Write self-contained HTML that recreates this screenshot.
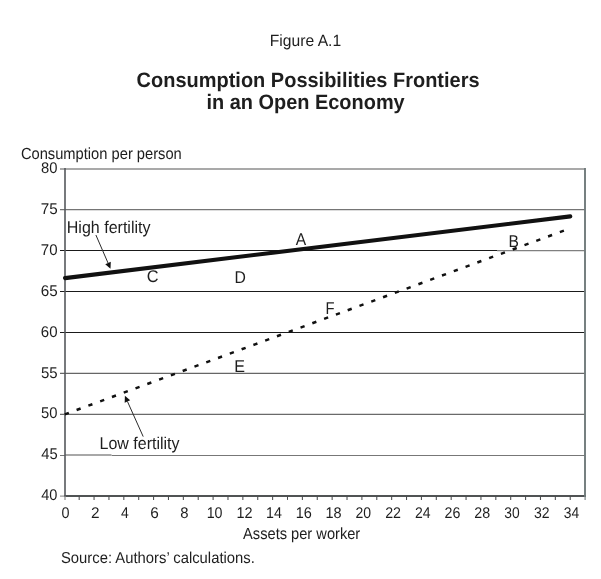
<!DOCTYPE html>
<html><head><meta charset="utf-8"><title>Figure A.1</title>
<style>
html,body{margin:0;padding:0;background:#fff;}
body{width:601px;height:579px;overflow:hidden;}
svg{display:block;font-family:"Liberation Sans",Arial,sans-serif;fill:#1e1e1e;will-change:transform;}
text{text-rendering:geometricPrecision;}
</style></head><body>
<svg width="601" height="579" viewBox="0 0 601 579">

<line x1="60" y1="209.55" x2="585.00" y2="209.55" stroke="#757575" stroke-width="1.2"/>
<line x1="60" y1="250.50" x2="585.00" y2="250.50" stroke="#1a1a1a" stroke-width="1.0"/>
<line x1="60" y1="291.50" x2="585.00" y2="291.50" stroke="#1a1a1a" stroke-width="1.0"/>
<line x1="60" y1="332.40" x2="585.00" y2="332.40" stroke="#1a1a1a" stroke-width="1.05"/>
<line x1="60" y1="373.40" x2="585.00" y2="373.40" stroke="#666" stroke-width="1.15"/>
<line x1="60" y1="414.40" x2="585.00" y2="414.40" stroke="#6a6a6a" stroke-width="1.15"/>
<line x1="60" y1="455.50" x2="585.00" y2="455.50" stroke="#777" stroke-width="1.1"/>
<line x1="497" y1="250.5" x2="585.00" y2="250.5" stroke="#fff" stroke-width="2.4"/>
<line x1="497" y1="250.6" x2="585.00" y2="250.6" stroke="#808080" stroke-width="1.2"/>
<line x1="65" y1="455.5" x2="111.5" y2="455.5" stroke="#fff" stroke-width="2.4"/>
<line x1="65" y1="455.0" x2="111.5" y2="455.0" stroke="#a8a8a8" stroke-width="2"/>
<line x1="60" y1="168.9" x2="585.00" y2="168.9" stroke="#8c8c8c" stroke-width="1.5"/>
<line x1="64.20" y1="496.00" x2="585.95" y2="496.00" stroke="#505354" stroke-width="2"/>
<line x1="60" y1="496.10" x2="65.00" y2="496.10" stroke="#8a8a8a" stroke-width="1.1"/>
<line x1="65.00" y1="168.05" x2="65.00" y2="497.00" stroke="#55585c" stroke-width="1.6"/>
<line x1="65.00" y1="496.00" x2="65.00" y2="499.90" stroke="#8a8a8a" stroke-width="1.2"/>
<line x1="585.00" y1="168.05" x2="585.00" y2="497.00" stroke="#707a7b" stroke-width="1.9"/>
<line x1="585.10" y1="496.00" x2="585.10" y2="499.90" stroke="#707a7b" stroke-width="1.1"/>
<line x1="79.18" y1="496.00" x2="79.18" y2="499.90" stroke="#4a4c4e" stroke-width="1.05"/>
<line x1="94.06" y1="496.00" x2="94.06" y2="499.90" stroke="#4a4c4e" stroke-width="1.05"/>
<line x1="108.94" y1="496.00" x2="108.94" y2="499.90" stroke="#4a4c4e" stroke-width="1.05"/>
<line x1="123.82" y1="496.00" x2="123.82" y2="499.90" stroke="#4a4c4e" stroke-width="1.05"/>
<line x1="138.70" y1="496.00" x2="138.70" y2="499.90" stroke="#4a4c4e" stroke-width="1.05"/>
<line x1="153.58" y1="496.00" x2="153.58" y2="499.90" stroke="#4a4c4e" stroke-width="1.05"/>
<line x1="168.46" y1="496.00" x2="168.46" y2="499.90" stroke="#4a4c4e" stroke-width="1.05"/>
<line x1="183.34" y1="496.00" x2="183.34" y2="499.90" stroke="#4a4c4e" stroke-width="1.05"/>
<line x1="198.22" y1="496.00" x2="198.22" y2="499.90" stroke="#4a4c4e" stroke-width="1.05"/>
<line x1="213.10" y1="496.00" x2="213.10" y2="499.90" stroke="#4a4c4e" stroke-width="1.05"/>
<line x1="227.98" y1="496.00" x2="227.98" y2="499.90" stroke="#4a4c4e" stroke-width="1.05"/>
<line x1="242.86" y1="496.00" x2="242.86" y2="499.90" stroke="#4a4c4e" stroke-width="1.05"/>
<line x1="257.74" y1="496.00" x2="257.74" y2="499.90" stroke="#4a4c4e" stroke-width="1.05"/>
<line x1="272.62" y1="496.00" x2="272.62" y2="499.90" stroke="#4a4c4e" stroke-width="1.05"/>
<line x1="287.50" y1="496.00" x2="287.50" y2="499.90" stroke="#4a4c4e" stroke-width="1.05"/>
<line x1="302.38" y1="496.00" x2="302.38" y2="499.90" stroke="#4a4c4e" stroke-width="1.05"/>
<line x1="317.26" y1="496.00" x2="317.26" y2="499.90" stroke="#4a4c4e" stroke-width="1.05"/>
<line x1="332.14" y1="496.00" x2="332.14" y2="499.90" stroke="#4a4c4e" stroke-width="1.05"/>
<line x1="347.02" y1="496.00" x2="347.02" y2="499.90" stroke="#4a4c4e" stroke-width="1.05"/>
<line x1="361.90" y1="496.00" x2="361.90" y2="499.90" stroke="#4a4c4e" stroke-width="1.05"/>
<line x1="376.78" y1="496.00" x2="376.78" y2="499.90" stroke="#4a4c4e" stroke-width="1.05"/>
<line x1="391.66" y1="496.00" x2="391.66" y2="499.90" stroke="#4a4c4e" stroke-width="1.05"/>
<line x1="406.54" y1="496.00" x2="406.54" y2="499.90" stroke="#4a4c4e" stroke-width="1.05"/>
<line x1="421.42" y1="496.00" x2="421.42" y2="499.90" stroke="#4a4c4e" stroke-width="1.05"/>
<line x1="436.30" y1="496.00" x2="436.30" y2="499.90" stroke="#4a4c4e" stroke-width="1.05"/>
<line x1="451.18" y1="496.00" x2="451.18" y2="499.90" stroke="#4a4c4e" stroke-width="1.05"/>
<line x1="466.06" y1="496.00" x2="466.06" y2="499.90" stroke="#4a4c4e" stroke-width="1.05"/>
<line x1="480.94" y1="496.00" x2="480.94" y2="499.90" stroke="#4a4c4e" stroke-width="1.05"/>
<line x1="495.82" y1="496.00" x2="495.82" y2="499.90" stroke="#4a4c4e" stroke-width="1.05"/>
<line x1="510.70" y1="496.00" x2="510.70" y2="499.90" stroke="#4a4c4e" stroke-width="1.05"/>
<line x1="525.58" y1="496.00" x2="525.58" y2="499.90" stroke="#4a4c4e" stroke-width="1.05"/>
<line x1="540.46" y1="496.00" x2="540.46" y2="499.90" stroke="#4a4c4e" stroke-width="1.05"/>
<line x1="555.34" y1="496.00" x2="555.34" y2="499.90" stroke="#4a4c4e" stroke-width="1.05"/>
<line x1="570.22" y1="496.00" x2="570.22" y2="499.90" stroke="#4a4c4e" stroke-width="1.05"/>
<line x1="65" y1="278.1" x2="570.3" y2="216.4" stroke="#111" stroke-width="4.1" stroke-linecap="round"/>
<line x1="64.8" y1="414.37" x2="566.5" y2="229.70" stroke="#111" stroke-width="2.5" stroke-dasharray="4.3 8.26"/>
<text transform="translate(269.77,45.80) scale(0.9623,1)" font-size="16.3">Figure A.1</text>
<text transform="translate(136.58,86.60) scale(0.9563,1)" font-size="20.9" font-weight="bold">Consumption Possibilities Frontiers</text>
<text transform="translate(206.45,108.80) scale(0.9541,1)" font-size="20.9" font-weight="bold">in an Open Economy</text>
<text transform="translate(20.91,159.00) scale(0.9127,1)" font-size="16.1">Consumption per person</text>
<text transform="translate(66.75,233.20) scale(0.9431,1)" font-size="17.0">High fertility</text>
<text transform="translate(99.55,448.70) scale(0.9403,1)" font-size="17.0">Low fertility</text>
<text transform="translate(243.10,539.10) scale(0.9094,1)" font-size="16.1">Assets per worker</text>
<text transform="translate(60.94,563.10) scale(0.9383,1)" font-size="15.8">Source: Authors’ calculations.</text>
<text transform="translate(295.70,244.50) scale(0.9193,1)" font-size="17.0">A</text>
<text transform="translate(508.49,247.10) scale(0.9143,1)" font-size="17.0">B</text>
<text transform="translate(146.63,282.40) scale(0.9641,1)" font-size="17.0">C</text>
<text transform="translate(234.57,282.50) scale(0.9267,1)" font-size="17.0">D</text>
<text transform="translate(234.34,371.80) scale(0.9466,1)" font-size="17.0">E</text>
<text transform="translate(325.44,313.80) scale(0.8706,1)" font-size="17.0">F</text>
<text transform="translate(41.27,500.30) scale(0.9390,1)" font-size="15.5">40</text>
<text transform="translate(41.27,459.38) scale(0.9529,1)" font-size="15.5">45</text>
<text transform="translate(41.04,418.46) scale(0.9529,1)" font-size="15.5">50</text>
<text transform="translate(41.03,377.54) scale(0.9673,1)" font-size="15.5">55</text>
<text transform="translate(40.80,336.62) scale(0.9673,1)" font-size="15.5">60</text>
<text transform="translate(40.79,295.71) scale(0.9820,1)" font-size="15.5">65</text>
<text transform="translate(40.80,254.79) scale(0.9673,1)" font-size="15.5">70</text>
<text transform="translate(40.79,213.87) scale(0.9820,1)" font-size="15.5">75</text>
<text transform="translate(41.04,172.95) scale(0.9529,1)" font-size="15.5">80</text>
<text transform="translate(61.45,517.80) scale(0.9290,1)" font-size="15.5">0</text>
<text transform="translate(90.89,517.80) scale(0.9910,1)" font-size="15.5">2</text>
<text transform="translate(121.11,517.80) scale(0.9009,1)" font-size="15.5">4</text>
<text transform="translate(150.32,517.80) scale(0.9910,1)" font-size="15.5">6</text>
<text transform="translate(180.29,517.80) scale(0.9590,1)" font-size="15.5">8</text>
<text transform="translate(206.68,517.80) scale(0.9190,1)" font-size="15.5">10</text>
<text transform="translate(236.38,517.80) scale(0.9333,1)" font-size="15.5">12</text>
<text transform="translate(266.11,517.80) scale(0.9190,1)" font-size="15.5">14</text>
<text transform="translate(295.81,517.80) scale(0.9333,1)" font-size="15.5">16</text>
<text transform="translate(325.52,517.80) scale(0.9333,1)" font-size="15.5">18</text>
<text transform="translate(355.49,517.80) scale(0.9052,1)" font-size="15.5">20</text>
<text transform="translate(385.19,517.80) scale(0.9190,1)" font-size="15.5">22</text>
<text transform="translate(414.91,517.80) scale(0.9052,1)" font-size="15.5">24</text>
<text transform="translate(444.62,517.80) scale(0.9190,1)" font-size="15.5">26</text>
<text transform="translate(474.33,517.80) scale(0.9190,1)" font-size="15.5">28</text>
<text transform="translate(504.28,517.80) scale(0.8919,1)" font-size="15.5">30</text>
<text transform="translate(533.99,517.80) scale(0.9052,1)" font-size="15.5">32</text>
<text transform="translate(563.71,517.80) scale(0.8919,1)" font-size="15.5">34</text>
<line x1="95.90" y1="235.00" x2="108.04" y2="263.01" stroke="#2a2a2a" stroke-width="1.0"/><polygon points="110.50,268.70 105.28,264.20 110.79,261.82" fill="#111"/>
<line x1="143.20" y1="436.60" x2="127.44" y2="401.46" stroke="#2a2a2a" stroke-width="1.0"/><polygon points="124.90,395.80 130.17,400.23 124.70,402.68" fill="#111"/>
</svg></body></html>
